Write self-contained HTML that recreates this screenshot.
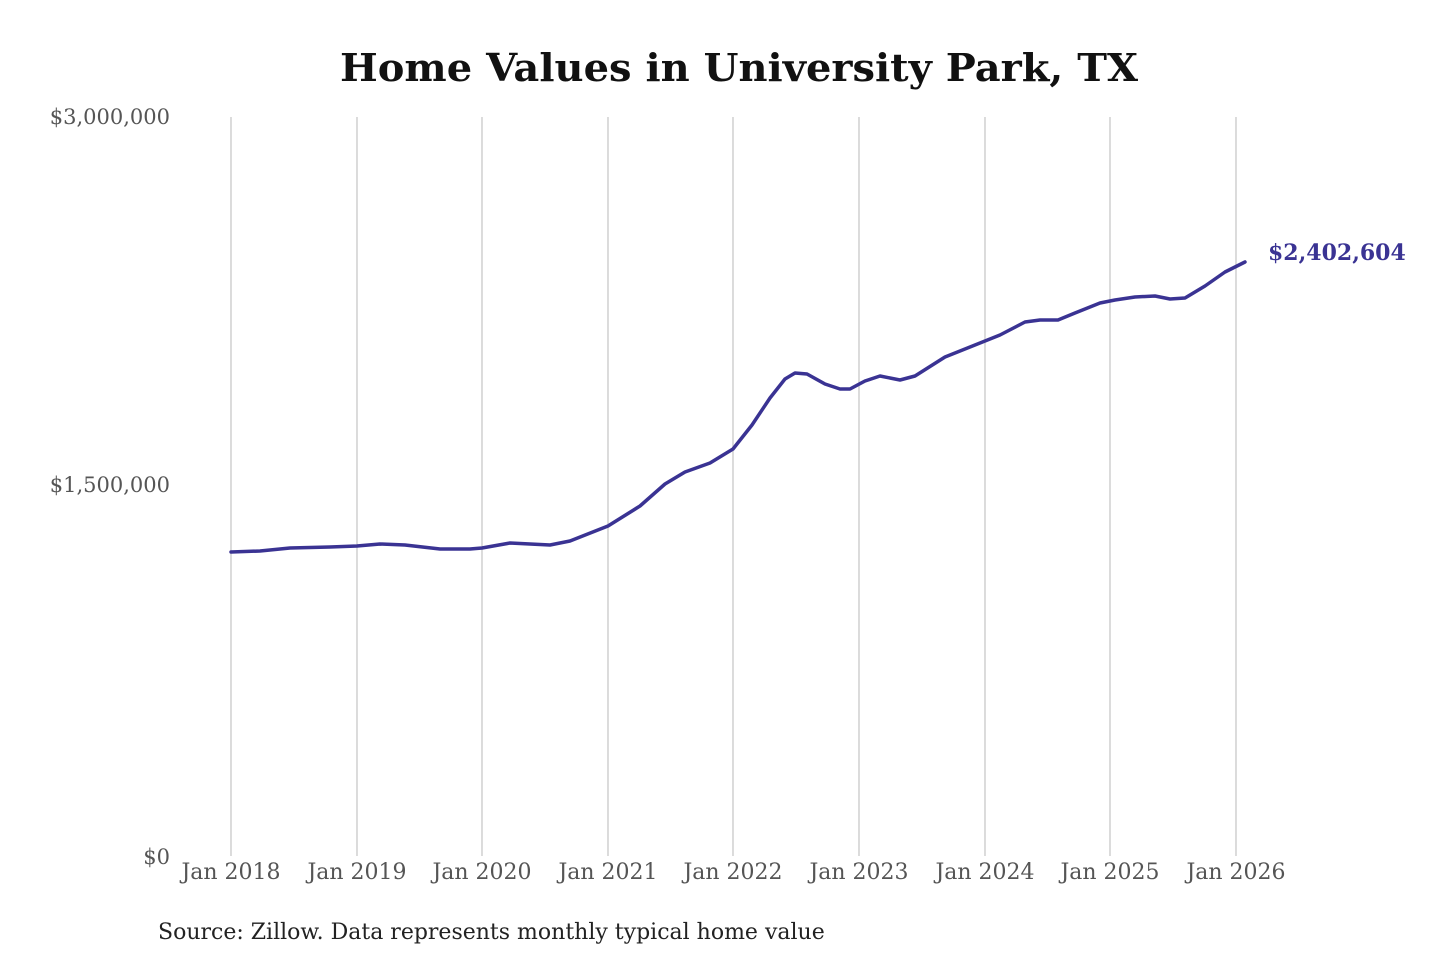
<!DOCTYPE html>
<html><head><meta charset="utf-8"><style>
html,body{margin:0;padding:0;background:#fff;width:1440px;height:960px;overflow:hidden}
svg text{font-family:"DejaVu Serif","Liberation Serif",serif}
</style></head><body>
<svg width="1440" height="960" viewBox="0 0 1440 960" xmlns="http://www.w3.org/2000/svg">
<text x="739" y="81" text-anchor="middle" font-size="38" font-weight="bold" fill="#111" textLength="798" lengthAdjust="spacingAndGlyphs">Home Values in University Park, TX</text>
<g stroke="#c8c8c8" stroke-width="1.3">
<line x1="231" y1="117" x2="231" y2="856"/><line x1="357" y1="117" x2="357" y2="856"/>
<line x1="482" y1="117" x2="482" y2="856"/><line x1="608" y1="117" x2="608" y2="856"/>
<line x1="733" y1="117" x2="733" y2="856"/><line x1="859" y1="117" x2="859" y2="856"/>
<line x1="985" y1="117" x2="985" y2="856"/><line x1="1110" y1="117" x2="1110" y2="856"/>
<line x1="1236" y1="117" x2="1236" y2="856"/>
</g>
<g font-size="21" fill="#555" text-anchor="end">
<text x="170" y="124">$3,000,000</text>
<text x="170" y="492">$1,500,000</text>
<text x="170" y="864">$0</text>
</g>
<g font-size="22" fill="#555" text-anchor="middle">
<text x="231" y="879">Jan 2018</text><text x="357" y="879">Jan 2019</text>
<text x="482" y="879">Jan 2020</text><text x="608" y="879">Jan 2021</text>
<text x="733" y="879">Jan 2022</text><text x="859" y="879">Jan 2023</text>
<text x="985" y="879">Jan 2024</text><text x="1110" y="879">Jan 2025</text>
<text x="1236" y="879">Jan 2026</text>
</g>
<polyline fill="none" stroke="#3a3393" stroke-width="3.5" stroke-linejoin="round" stroke-linecap="round" points="231,552 260,551 290,548 330,547 357,546 380,544 405,545 440,549 470,549 482,548 510,543 530,544 550,545 570,541 608,526 640,506 665,484 685,472 710,463 733,449 752,425 770,398 785,379 795,373 807,374 825,384 840,389 850,389 865,381 880,376 900,380 915,376 945,357 975,345 1000,335 1025,322 1040,320 1058,320 1075,313 1100,303 1115,300 1135,297 1155,296 1170,299 1185,298 1205,286 1225,272 1245,262"/>
<text x="1268" y="260" font-size="22" font-weight="bold" fill="#3a3393">$2,402,604</text>
<text x="158" y="939" font-size="22" fill="#222">Source: Zillow. Data represents monthly typical home value</text>
</svg>
</body></html>
